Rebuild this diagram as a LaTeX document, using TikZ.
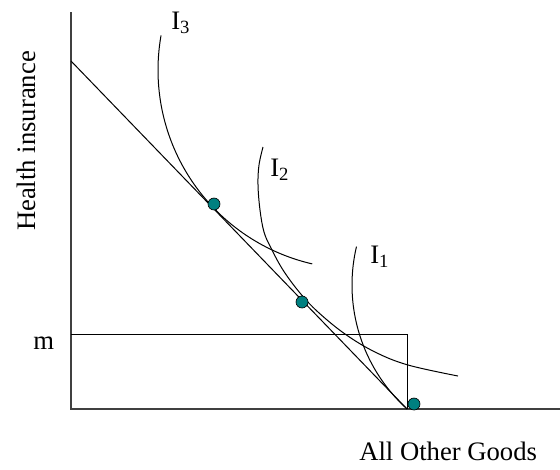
\documentclass[tikz,border=0pt]{standalone}
\usepackage{fontspec}
\setmainfont{Liberation Serif}
\definecolor{dotteal}{RGB}{0,128,128}
\begin{document}
\begin{tikzpicture}[x=0.75pt,y=-0.75pt,
  thinline/.style={line width=0.75pt, black},
  axisline/.style={line width=1pt, black!75},
  dotmark/.style={circle, draw=black, line width=0.5pt, fill=dotteal, minimum size=9pt, inner sep=0pt},
  lbl/.style={font=\fontsize{20}{24}\selectfont, inner sep=0pt}]
\useasboundingbox (0,0) rectangle (560,469);
% key points
\coordinate (O) at (71,409);
\coordinate (Ytop) at (71,12);
\coordinate (Xend) at (560,409);
\coordinate (B) at (71,61);
\coordinate (K) at (407,409);
\coordinate (M) at (71,334);
\coordinate (R) at (407,334);
% axes
\draw[axisline] (Ytop) -- (O) -- (Xend);
% budget line
\draw[thinline] (B) -- (K);
% endowment box
\draw[thinline] (M) -- (R) -- (K);
% indifference curves
\draw[thinline] plot[domain=103:190, samples=80] ({357+199*cos(\x)},{70+199*sin(\x)});
\draw[thinline] plot[smooth, tension=0.6] coordinates {(263,147) (259,165) (258,185) (260,210) (264,232) (271,248) (283,270) (300,293) (318,312) (345,334) (375,352) (408,365) (458,376)};
\draw[thinline] plot[domain=132.1:193.3, samples=80] ({519+167*cos(\x)},{285+167*sin(\x)});
% points
\node[dotmark] (d1) at (214,204) {};
\node[dotmark] (d2) at (302,302) {};
\node[dotmark] (d3) at (414,404) {};
% labels
\node[lbl, anchor=base west] (l3) at (171,29) {I\textsubscript{3}};
\node[lbl, anchor=base west] (l2) at (270,176) {I\textsubscript{2}};
\node[lbl, anchor=base west] (l1) at (370,263) {I\textsubscript{1}};
\node[lbl, anchor=base west] (lm) at (33,349) {m};
\node[lbl, rotate=90, anchor=base] (ly) at (35,141) {Health insurance};
\node[lbl, anchor=base west] (lx) at (359,460) {All Other Goods};
\end{tikzpicture}
\end{document}
